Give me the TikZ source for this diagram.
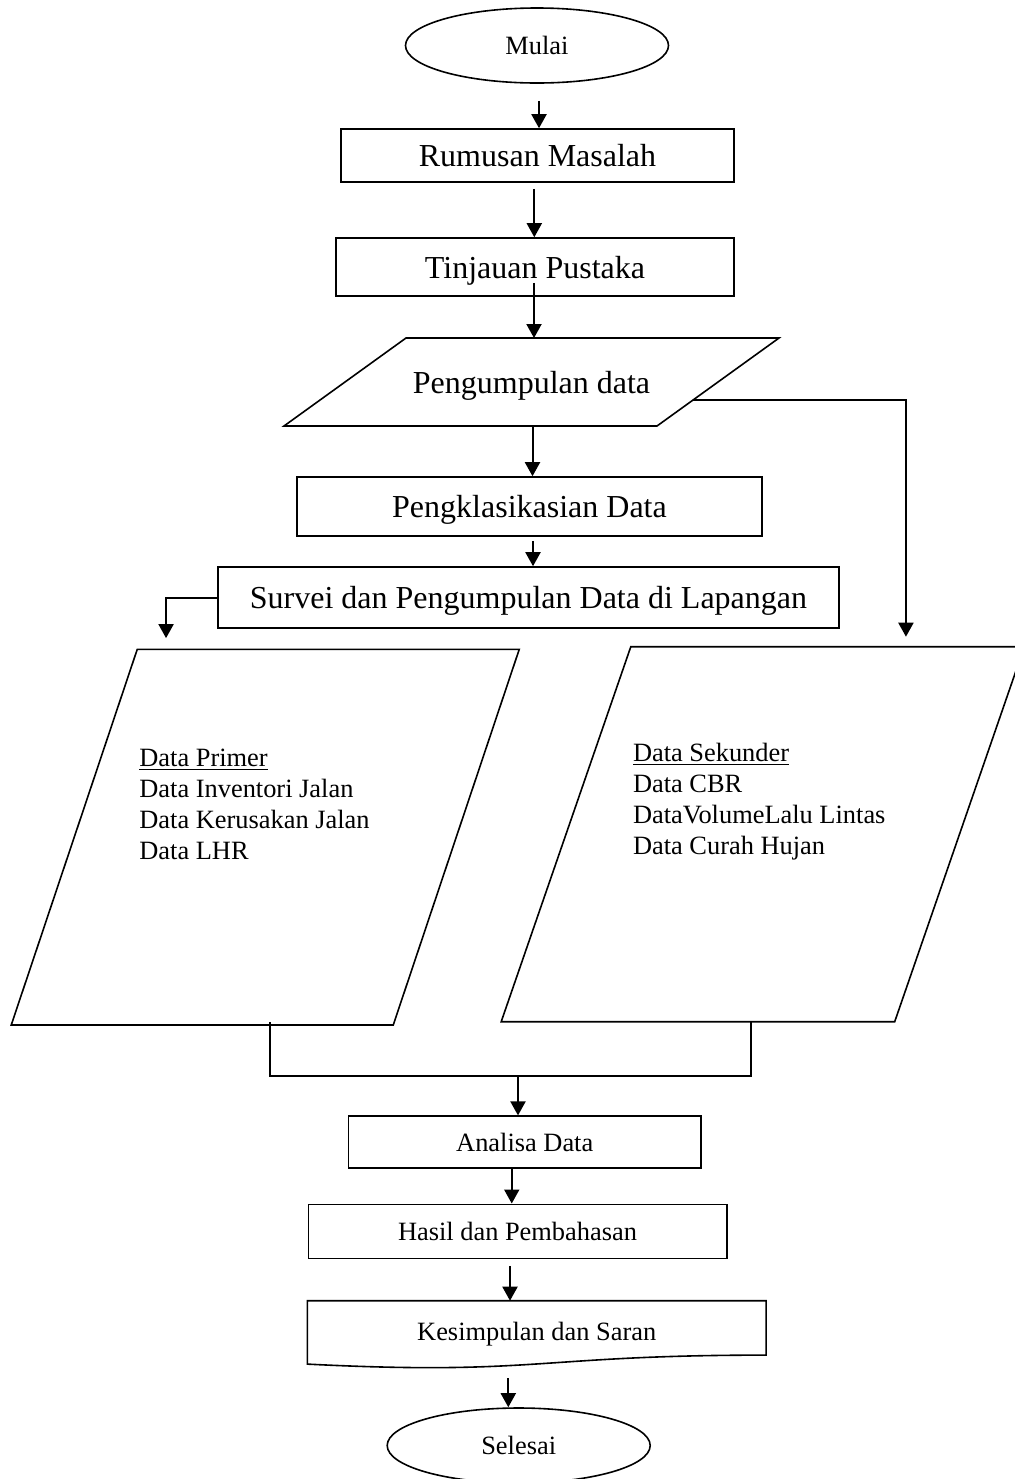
\documentclass[tikz,border=0pt]{standalone}
\usepackage{fontspec}
\setmainfont{Liberation Serif}
\usetikzlibrary{shapes.geometric,arrows.meta}

\newcommand{\besar}{\fontsize{16}{19}\selectfont}
\newcommand{\kecil}{\fontsize{13.2}{15.5}\selectfont}

\begin{document}
\begin{tikzpicture}[
    x=0.5pt, y=-0.5pt,
    box/.style={draw, line width=0.8pt, align=center, inner sep=0pt, font=\besar, text height=14pt, text depth=3pt},
    smallbox/.style={draw, line width=0.8pt, align=center, inner sep=0pt, font=\kecil},
    terminal/.style={draw, ellipse, line width=0.8pt, minimum width=131.5pt, minimum height=37.5pt, inner sep=0pt, font=\kecil},
    slanted/.style={inner sep=0pt, outer sep=0pt},
    isi/.style={align=left, inner sep=0pt, anchor=west, font=\kecil},
    outline/.style={line width=0.8pt},
    conn/.style={line width=1pt},
    arrow/.style={-{Triangle[length=7pt, width=7.5pt]}, line width=1pt}
]
\useasboundingbox (0,0) rectangle (1014,1479);

\node[terminal] (mulai) at (537,45.5) {Mulai};
\node[box, minimum width=196.5pt, minimum height=26.5pt] (rumusan) at (537.5,155.5) {Rumusan Masalah};
\node[box, minimum width=199pt, minimum height=29pt] (tinjauan) at (535,267) {Tinjauan Pustaka};
\node[slanted, minimum width=186.5pt, minimum height=44pt, font=\besar, text height=14pt, text depth=3pt] (kumpul) at (531.5,382) {Pengumpulan data};
\node[box, minimum width=232.5pt, minimum height=29.5pt] (klasifikasi) at (529.5,506.5) {Pengklasikasian Data};
\node[box, minimum width=310.5pt, minimum height=30.5pt] (survei) at (528.5,597.5) {Survei dan Pengumpulan Data di Lapangan};
\node[slanted, minimum width=191pt, minimum height=187.85pt] (primer) at (265.25,837.15) {};
\node[slanted, minimum width=196.75pt, minimum height=187.5pt] (sekunder) at (762.75,834.2) {};
\node[isi] (primerIsi) at (139,804.5) {\underline{Data Primer}\\Data Inventori Jalan\\Data Kerusakan Jalan\\Data LHR};
\node[isi] (sekunderIsi) at (632.6,801.5) {\underline{Data Sekunder}\\Data CBR\\DataVolumeLalu Lintas\\Data Curah Hujan};
\node[smallbox, minimum width=176.25pt, minimum height=26pt] (analisa) at (524.75,1142.2) {Analisa Data};
\node[smallbox, minimum width=209.2pt, minimum height=27pt] (hasil) at (517.5,1231.3) {Hasil dan Pembahasan};
\node[slanted, font=\kecil, minimum width=229.35pt, minimum height=33.9pt] (kesimpulan) at (536.7,1334.6) {Kesimpulan dan Saran};
\node[terminal] (selesai) at (518.7,1445.5) {Selesai};

% slanted and wavy outlines
\draw[outline] ([xshift=30.5pt]kumpul.north west) -- ([xshift=30.5pt]kumpul.north east) -- ([xshift=-30.5pt]kumpul.south east) -- ([xshift=-30.5pt]kumpul.south west) -- cycle;
\draw[outline] ([xshift=31.5pt]primer.north west) -- ([xshift=31.5pt]primer.north east) -- ([xshift=-31.5pt]primer.south east) -- ([xshift=-31.5pt]primer.south west) -- cycle;
\draw[outline] ([xshift=32.4pt]sekunder.north west) -- ([xshift=32.4pt]sekunder.north east) -- ([xshift=-32.4pt]sekunder.south east) -- ([xshift=-32.4pt]sekunder.south west) -- cycle;
\draw[outline] ([yshift=2.2pt]kesimpulan.south west) -- (kesimpulan.north west) -- (kesimpulan.north east) -- ([yshift=6.7pt]kesimpulan.south east) .. controls ([yshift=6.7pt]kesimpulan.south) and ([yshift=-3.6pt]kesimpulan.south) .. ([yshift=2.2pt]kesimpulan.south west) -- cycle;

\draw[arrow] ([xshift=1pt,yshift=-8.5pt]mulai.south) coordinate (p1) -- (p1 |- rumusan.north);
\draw[arrow] ([xshift=-1.6pt,yshift=-3pt]rumusan.south) coordinate (p2) -- (p2 |- tinjauan.north);
\draw[arrow] ([xshift=-0.5pt,yshift=7pt]tinjauan.south) coordinate (p3) -- (p3 |- kumpul.north);
\draw[arrow] ([xshift=0.5pt]kumpul.south) coordinate (p4) -- (p4 |- klasifikasi.north);
\draw[arrow] ([xshift=1.75pt,yshift=-2pt]klasifikasi.south) coordinate (p5) -- (p5 |- survei.north);
\draw[arrow] (survei.west) -| ([xshift=-49.6pt,yshift=5.6pt]primer.north);
\draw[arrow] ([xshift=-12.5pt,yshift=-9pt]kumpul.east) -| ([xshift=71.6pt,yshift=5pt]sekunder.north);

\coordinate (primerOut) at ([xshift=2.6pt,yshift=1.5pt]primer.south);
\coordinate (sekunderOut) at ([xshift=-6.1pt]sekunder.south);
\coordinate (gabung) at (518,1076);
\draw[conn] (primerOut) |- (gabung) -| (sekunderOut);
\draw[arrow] (gabung) -- (gabung |- analisa.north);

\draw[arrow] ([xshift=-6.5pt]analisa.south) coordinate (p6) -- (p6 |- hasil.north);
\draw[arrow] ([xshift=-3.75pt,yshift=-3.4pt]hasil.south) coordinate (p7) -- (p7 |- kesimpulan.north);
\draw[arrow] ([xshift=-14.2pt,yshift=-4.75pt]kesimpulan.south) coordinate (p8) -- (p8 |- selesai.north);
\end{tikzpicture}
\end{document}
